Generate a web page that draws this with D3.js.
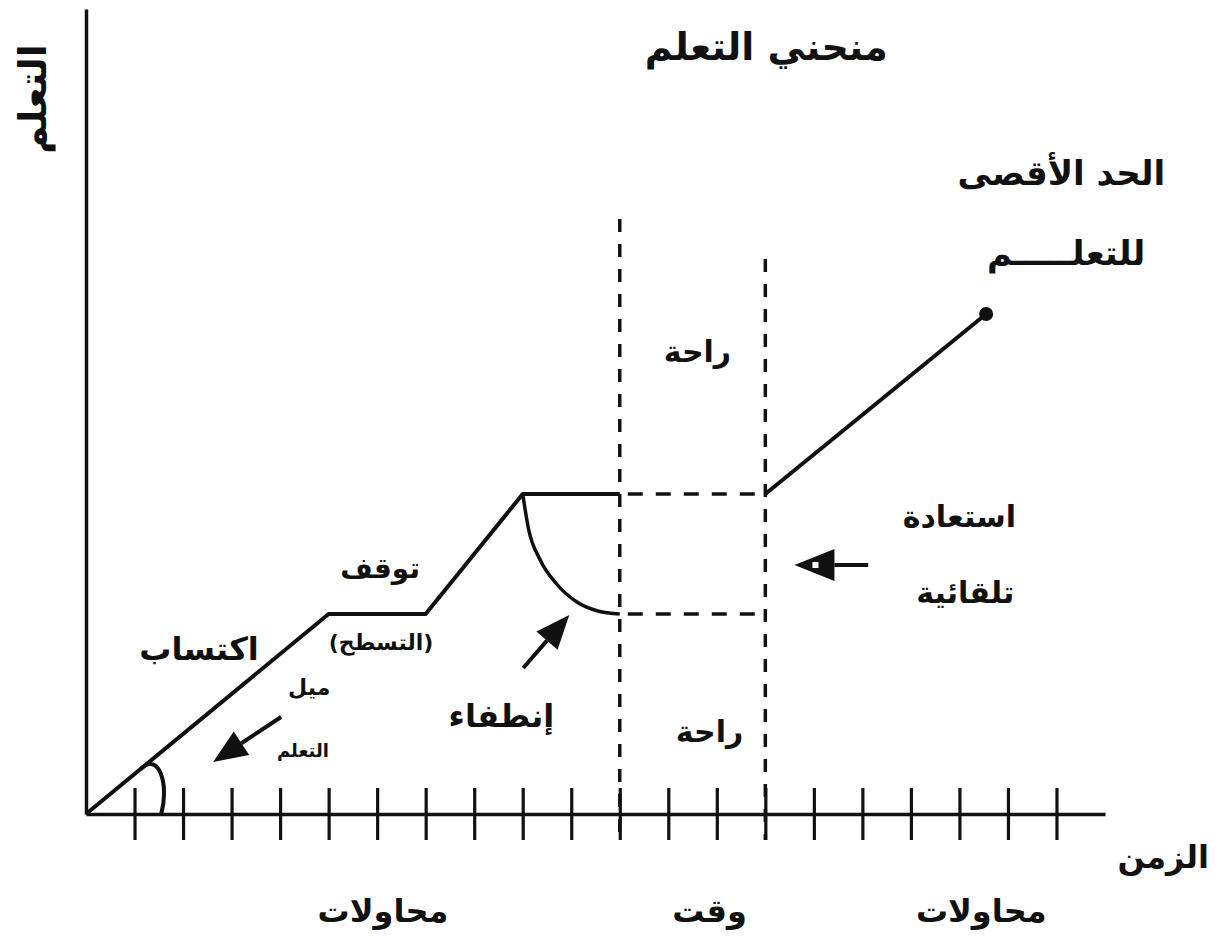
<!DOCTYPE html>
<html>
<head>
<meta charset="utf-8">
<script src="https://cdn.jsdelivr.net/npm/d3@7"></script>
<style>
    body { margin: 0; background: #fff; }
    text { font-family: 'DejaVu Sans', sans-serif; font-weight: bold; fill: #111; direction: rtl; }
</style>
</head>
<body>
<script>
// منحنى التعلم: الوقت بالمحاولات على x ومستوى التعلم على y
var learnT = [0, 5, 7, 9, 11]
var learnV = [0, 40, 40, 64, 64]

var forgetT = [9, 9.12, 9.35, 9.7, 10.1, 10.55, 11]
var forgetV = [64, 57, 51, 46, 42.5, 40.6, 40]

var recoverT = [14, 18.55]
var recoverV = [64, 100]

var restT = [11, 14]
var restTop = [119, 111]
var restLevels = [64, 40]

var tickValues = [1, 2, 3, 4, 5, 6, 7, 8, 9, 10, 11, 12, 13, 14, 15, 16, 17, 18, 19, 20]

// علامة الزاوية عند بداية المنحنى
var angleT = [1.13, 1.5, 1.72, 1.55]
var angleV = [9, 12.5, 6, 0]

var arrowFrom = [[4.02, 19.4], [9.01, 29.2], [16.12, 49.8]]
var arrowTo = [[2.62, 10.4], [9.96, 39.8], [14.6, 49.8]]

var labelText = ['منحني التعلم', 'الحد الأقصى', 'للتعلـــــم', 'راحة', 'راحة', 'إنطفاء',
    'توقف', '(التسطح)', 'اكتساب', 'ميل', 'التعلم', 'استعادة', 'تلقائية',
    'الزمن', 'محاولات', 'وقت', 'محاولات']
var labelT = [14.02, 20.1, 20.2, 12.6, 12.85, 8.56, 6.06, 6.08, 2.33, 4.6, 4.47, 18.0, 18.12, 22.2, 6.12, 12.85, 18.45]
var labelV = [150.8, 125.8, 109.8, 90.4, 14.4, 17.4, 47.2, 32.8, 30.8, 23.8, 11.4, 57.4, 42.2, -10.8, -21.6, -21.6, -21.6]
var labelSize = [38, 34, 34, 30, 30, 32, 28, 22, 32, 22, 18, 30, 30, 32, 32, 32, 32]

var _width = 1224
var _height = 942

var _x = d3.scaleLinear().domain([0, 21]).range([86, 1105])
var _y = d3.scaleLinear().domain([0, 161]).range([814, 9])

var _svg = d3.select('body')
    .append('svg')
    .attr('width', _width)
    .attr('height', _height)

var _bodyG = _svg.append('g').attr('class', 'body')

function zip(a, b) {
    return a.map((d, i) => [d, b[i]])
}

function renderAxes() {
    var xAxis = d3.axisBottom(_x)
        .tickValues(tickValues)
        .tickFormat('')
        .tickSizeOuter(0)

    var xG = _bodyG.append('g')
        .attr('class', 'x axis')
        .attr('transform', 'translate(0,' + _y(0) + ')')
        .call(xAxis)

    xG.select('.domain').attr('stroke', '#111').attr('stroke-width', 3.5)
    xG.selectAll('.tick line')
        .attr('y1', -26)
        .attr('y2', 26)
        .attr('stroke', '#111')
        .attr('stroke-width', 3.2)

    var yAxis = d3.axisLeft(_y).ticks(0).tickSizeOuter(0)

    var yG = _bodyG.append('g')
        .attr('class', 'y axis')
        .attr('transform', 'translate(' + _x(0) + ',0)')
        .call(yAxis)

    yG.select('.domain').attr('stroke', '#111').attr('stroke-width', 3.5)

    _bodyG.append('text')
        .attr('transform', 'translate(' + (_x(0) - 40) + ',' + _y(143) + ') rotate(-90)')
        .attr('text-anchor', 'middle')
        .style('font-size', '38px')
        .text('التعلم')
}

function renderCurves() {
    var line = d3.line()
        .x(d => _x(d[0]))
        .y(d => _y(d[1]))

    _bodyG.append('path')
        .attr('class', 'learn')
        .attr('d', line(zip(learnT, learnV)))
        .attr('fill', 'none')
        .attr('stroke', '#111')
        .attr('stroke-width', 4)
        .attr('stroke-linejoin', 'round')

    _bodyG.append('path')
        .attr('class', 'forget')
        .attr('d', line.curve(d3.curveMonotoneX)(zip(forgetT, forgetV)))
        .attr('fill', 'none')
        .attr('stroke', '#111')
        .attr('stroke-width', 3.5)

    line.curve(d3.curveLinear)

    _bodyG.append('path')
        .attr('class', 'recover')
        .attr('d', line(zip(recoverT, recoverV)))
        .attr('fill', 'none')
        .attr('stroke', '#111')
        .attr('stroke-width', 4)

    _bodyG.append('circle')
        .attr('cx', _x(recoverT[1]))
        .attr('cy', _y(recoverV[1]))
        .attr('r', 7)
        .attr('fill', '#111')

    // علامة زاوية الميل
    var p = d3.path()
    p.moveTo(_x(angleT[0]), _y(angleV[0]))
    p.bezierCurveTo(_x(angleT[1]), _y(angleV[1]), _x(angleT[2]), _y(angleV[2]), _x(angleT[3]), _y(angleV[3]))
    _bodyG.append('path')
        .attr('d', p.toString())
        .attr('fill', 'none')
        .attr('stroke', '#111')
        .attr('stroke-width', 4)
}

function renderRest() {
    _bodyG.selectAll('line.rest')
        .data(zip(restT, restTop))
        .enter()
        .append('line')
        .attr('class', 'rest')
        .attr('x1', d => _x(d[0]))
        .attr('x2', d => _x(d[0]))
        .attr('y1', d => _y(d[1]))
        .attr('y2', _y(0) + 26)
        .attr('stroke', '#111')
        .attr('stroke-width', 3.5)
        .attr('stroke-dasharray', '13,12')

    _bodyG.selectAll('line.level')
        .data(restLevels)
        .enter()
        .append('line')
        .attr('class', 'level')
        .attr('x1', _x(restT[0]) + 8)
        .attr('x2', _x(restT[1]))
        .attr('y1', d => _y(d))
        .attr('y2', d => _y(d))
        .attr('stroke', '#111')
        .attr('stroke-width', 3.5)
        .attr('stroke-dasharray', '15,13')
}

function renderArrows() {
    arrowFrom.forEach((from, i) => {
        var to = arrowTo[i]
        var x0 = _x(from[0]), y0 = _y(from[1])
        var x1 = _x(to[0]), y1 = _y(to[1])
        var a = Math.atan2(y1 - y0, x1 - x0)
        var len = i == 2 ? 40 : 34
        var half = i == 2 ? 16 : 14
        var bx = x1 - len * Math.cos(a), by = y1 - len * Math.sin(a)

        _bodyG.append('line')
            .attr('x1', x0).attr('y1', y0)
            .attr('x2', bx).attr('y2', by)
            .attr('stroke', '#111')
            .attr('stroke-width', 4)

        var pts = [
            [x1, y1],
            [bx + half * Math.sin(a), by - half * Math.cos(a)],
            [bx - half * Math.sin(a), by + half * Math.cos(a)]
        ]
        _bodyG.append('path')
            .attr('d', 'M' + pts.join('L') + 'Z')
            .attr('fill', '#111')

        if (i == 2) {
            _bodyG.append('rect')
                .attr('x', x1 + 18).attr('y', y1 - 3)
                .attr('width', 6).attr('height', 6)
                .attr('fill', '#fff')
        }
    })
}

function renderLabels() {
    _bodyG.selectAll('text.label')
        .data(labelText)
        .enter()
        .append('text')
        .attr('class', 'label')
        .attr('x', (d, i) => _x(labelT[i]))
        .attr('y', (d, i) => _y(labelV[i]))
        .attr('text-anchor', 'middle')
        .style('font-size', (d, i) => labelSize[i] + 'px')
        .text(d => d)
}

renderRest()
renderAxes()
renderCurves()
renderArrows()
renderLabels()
</script>
</body>
</html>
